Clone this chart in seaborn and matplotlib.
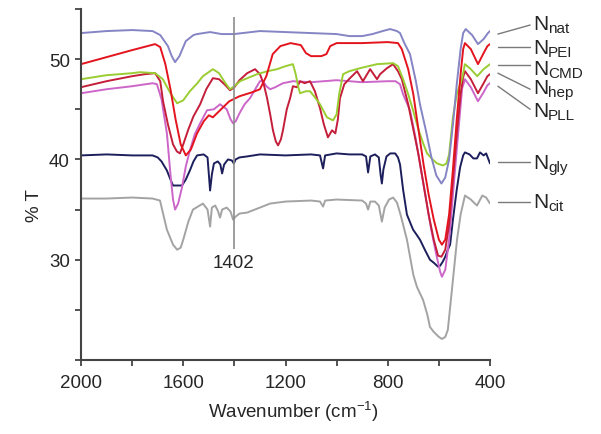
import numpy as np
import pandas as pd
import matplotlib
matplotlib.use("Agg")
import matplotlib.pyplot as plt
import seaborn as sns

# FTIR spectra, wavenumber (cm-1) vs %T
nat_wn = [2000, 1900, 1800, 1720, 1690, 1660, 1645, 1632, 1615, 1590, 1560, 1546, 1495, 1450, 1402, 1300, 1200, 1100, 1000, 950, 900, 860, 820, 791, 764, 752, 735, 713, 690, 674, 650, 630, 610, 590, 575, 560, 545, 530, 515, 505, 495, 470, 447, 425, 408, 400]
nat_t = [52.6, 52.8, 52.9, 52.8, 52.4, 51.3, 50.3, 49.7, 50.3, 51.8, 52.4, 52.5, 52.7, 52.5, 52.5, 52.8, 52.7, 52.6, 52.5, 52.3, 52.3, 52.5, 52.8, 53.0, 52.8, 52.6, 51.6, 50.5, 47.8, 45.5, 42.8, 40.3, 38.4, 37.6, 38.2, 40.0, 43.5, 47.5, 51.0, 52.6, 53.0, 52.4, 51.5, 52.0, 52.6, 52.8]

pei_wn = [2000, 1900, 1800, 1710, 1690, 1670, 1650, 1630, 1610, 1590, 1570, 1546, 1520, 1500, 1484, 1456, 1420, 1380, 1330, 1300, 1275, 1250, 1220, 1180, 1140, 1120, 1100, 1060, 1040, 1025, 1000, 900, 800, 760, 745, 720, 700, 680, 660, 640, 620, 600, 588, 575, 560, 545, 530, 515, 505, 498, 475, 447, 425, 410, 400]
pei_t = [49.5, 50.2, 50.9, 51.5, 51.2, 49.5, 47.0, 44.0, 41.5, 40.4, 41.0, 42.6, 43.8, 44.4, 44.2, 44.9, 45.8, 46.3, 46.7, 47.0, 48.3, 50.5, 51.3, 51.6, 51.4, 50.6, 50.3, 50.3, 50.5, 51.3, 51.6, 51.6, 51.7, 51.6, 51.0, 49.0, 46.5, 43.0, 39.5, 36.5, 34.0, 32.0, 31.5, 32.0, 34.5, 39.0, 44.0, 48.5, 51.0, 51.6, 51.0, 49.5, 50.6, 51.3, 51.5]

cmd_wn = [2000, 1900, 1800, 1769, 1710, 1680, 1650, 1624, 1600, 1574, 1545, 1523, 1484, 1460, 1435, 1417, 1400, 1378, 1340, 1311, 1270, 1233, 1200, 1171, 1160, 1150, 1143, 1120, 1104, 1085, 1065, 1038, 1014, 1000, 990, 975, 950, 908, 842, 779, 760, 740, 720, 701, 680, 660, 646, 625, 607, 584, 570, 560, 545, 530, 509, 498, 475, 450, 425, 400]
cmd_t = [48.0, 48.4, 48.6, 48.7, 48.6, 48.0, 46.6, 45.6, 45.9, 46.8, 47.6, 48.3, 49.0, 48.6, 47.6, 47.0, 47.3, 47.8, 48.2, 48.5, 48.8, 49.0, 49.3, 49.5, 48.5, 47.2, 46.6, 46.8, 46.8, 46.2, 45.5, 44.2, 43.9, 44.5, 46.5, 48.5, 48.8, 49.1, 49.5, 49.6, 49.3, 48.0, 46.5, 44.9, 43.0, 41.5, 40.6, 40.0, 39.6, 39.4, 39.6, 40.5, 44.2, 46.5, 48.1, 49.5, 49.0, 48.3, 49.0, 49.5]

hep_wn = [2000, 1900, 1800, 1750, 1710, 1690, 1679, 1660, 1640, 1625, 1613, 1600, 1580, 1560, 1534, 1510, 1484, 1460, 1435, 1417, 1400, 1380, 1350, 1319, 1300, 1285, 1272, 1260, 1249, 1238, 1229, 1218, 1210, 1195, 1182, 1171, 1155, 1143, 1125, 1104, 1085, 1065, 1050, 1034, 1025, 1018, 1005, 995, 987, 970, 948, 920, 897, 869, 842, 830, 803, 779, 760, 745, 720, 700, 680, 660, 640, 620, 603, 590, 575, 560, 545, 530, 515, 505, 498, 475, 447, 425, 410, 400]
hep_t = [47.2, 47.8, 48.3, 48.5, 48.6, 47.8, 45.8, 43.5, 41.5, 40.8, 40.6, 41.5, 43.0, 44.3, 45.5, 47.0, 48.1, 48.0, 47.4, 46.9, 47.2, 47.9, 48.6, 49.0, 48.5, 47.5, 46.1, 44.5, 42.9, 41.8, 41.4, 42.0, 42.9, 45.0, 46.1, 47.3, 47.2, 47.8, 47.6, 47.8, 46.8, 45.1, 43.5, 42.2, 42.6, 42.9, 42.6, 44.0, 46.1, 47.5, 48.1, 48.8, 47.8, 49.0, 48.0, 48.5, 49.1, 49.5, 48.8, 48.0, 45.5, 43.0, 40.5, 37.5, 34.5, 32.0, 30.4, 30.3, 31.0, 33.5, 38.0, 42.5, 46.5, 48.2, 48.8, 48.0, 46.6, 47.6, 48.3, 48.5]

pll_wn = [2000, 1900, 1800, 1720, 1703, 1685, 1664, 1650, 1640, 1632, 1620, 1605, 1590, 1574, 1555, 1534, 1507, 1480, 1456, 1430, 1415, 1405, 1395, 1380, 1360, 1339, 1300, 1288, 1275, 1260, 1240, 1210, 1171, 1100, 1000, 900, 800, 770, 752, 740, 713, 690, 670, 650, 630, 610, 595, 588, 575, 560, 545, 530, 518, 509, 498, 475, 447, 425, 410, 400]
pll_t = [46.6, 47.0, 47.3, 47.6, 47.5, 46.0, 42.6, 38.5, 36.0, 35.0, 35.6, 37.2, 39.3, 40.9, 42.5, 43.6, 44.9, 45.0, 45.5, 45.0, 44.0, 43.6, 43.8, 44.6, 45.5, 46.1, 47.8, 47.8, 47.3, 47.0, 47.2, 47.6, 47.8, 47.7, 47.9, 47.7, 47.8, 47.8, 47.5, 46.5, 44.9, 42.0, 39.0, 36.0, 33.0, 30.5, 28.8, 28.3, 29.0, 32.0, 36.5, 41.0, 44.5, 47.1, 48.0, 47.2, 45.8, 46.7, 47.4, 47.6]

gly_wn = [2000, 1900, 1800, 1720, 1700, 1685, 1664, 1650, 1640, 1620, 1605, 1590, 1574, 1560, 1546, 1520, 1505, 1495, 1488, 1480, 1465, 1455, 1448, 1440, 1425, 1410, 1402, 1395, 1380, 1350, 1300, 1200, 1100, 1065, 1053, 1045, 1000, 950, 900, 885, 877, 868, 850, 835, 828, 823, 817, 805, 790, 771, 760, 752, 740, 725, 701, 690, 674, 655, 635, 620, 603, 595, 585, 575, 565, 556, 545, 530, 517, 505, 498, 480, 465, 451, 439, 425, 415, 400]
gly_t = [40.4, 40.5, 40.4, 40.4, 40.2, 39.8, 38.9, 38.0, 37.4, 37.4, 37.4, 38.0, 38.9, 39.8, 40.4, 40.5, 40.2, 36.9, 38.5, 39.6, 39.8, 39.5, 38.6, 39.5, 40.0, 39.9, 39.6, 40.0, 40.2, 40.3, 40.5, 40.4, 40.5, 40.4, 39.1, 40.4, 40.6, 40.5, 40.5, 40.3, 38.7, 40.3, 40.5, 40.2, 38.5, 37.6, 39.0, 40.3, 40.6, 40.6, 40.2, 39.5, 37.0, 34.5, 33.0, 32.6, 32.0, 31.0, 30.0, 29.7, 29.3, 29.4, 29.8, 30.3, 31.0, 31.5, 34.0, 37.0, 39.2, 40.4, 40.7, 40.5, 40.1, 40.1, 40.7, 40.4, 40.6, 39.6]

cit_wn = [2000, 1900, 1800, 1720, 1691, 1664, 1640, 1624, 1610, 1600, 1580, 1562, 1523, 1505, 1495, 1488, 1475, 1465, 1456, 1448, 1430, 1415, 1405, 1395, 1380, 1350, 1300, 1260, 1200, 1100, 1065, 1053, 1045, 1000, 900, 885, 877, 868, 850, 835, 823, 812, 795, 779, 764, 750, 725, 700, 686, 662, 645, 635, 620, 600, 588, 575, 565, 545, 529, 515, 498, 475, 451, 430, 415, 400]
cit_t = [36.1, 36.1, 36.2, 36.1, 35.9, 33.0, 31.5, 31.0, 31.2, 32.0, 33.8, 35.0, 35.6, 35.0, 33.3, 35.2, 35.4, 34.9, 34.2, 35.0, 35.2, 34.8, 34.0, 34.3, 34.6, 34.7, 35.2, 35.6, 35.8, 35.9, 35.8, 35.3, 35.9, 36.0, 35.9, 35.6, 35.0, 35.8, 35.8, 35.4, 33.8, 35.2, 36.0, 36.2, 35.7, 34.5, 32.0, 28.5, 27.3, 26.0, 24.5, 23.3, 22.8, 22.3, 22.1, 22.3, 23.0, 28.0, 32.0, 34.5, 36.4, 36.0, 35.4, 36.4, 36.2, 35.6]

samples = ["cit", "gly", "PLL", "hep", "CMD", "PEI", "nat"]
colors = {"nat": "#8584c4", "PEI": "#e3141e", "CMD": "#9acd32", "hep": "#c41e3a",
          "PLL": "#cc66c8", "gly": "#1c1f5c", "cit": "#a3a3a3"}

series = {"nat": (nat_wn, nat_t), "PEI": (pei_wn, pei_t), "CMD": (cmd_wn, cmd_t),
          "hep": (hep_wn, hep_t), "PLL": (pll_wn, pll_t), "gly": (gly_wn, gly_t),
          "cit": (cit_wn, cit_t)}

frames = []
for s in samples:
    wn, t = series[s]
    frames.append(pd.DataFrame({"wn": wn, "T": t, "sample": s}))
df = pd.concat(frames, ignore_index=True)

sns.set_style("ticks")
plt.rcParams["font.family"] = ["Liberation Sans", "DejaVu Sans"]
plt.rcParams["mathtext.fontset"] = "custom"
plt.rcParams["mathtext.rm"] = "Liberation Sans"
plt.rcParams["mathtext.it"] = "Liberation Sans:italic"
plt.rcParams["mathtext.bf"] = "Liberation Sans:bold"

fig = plt.figure(figsize=(6.01, 4.35), dpi=100)
ax = fig.add_axes([81 / 601, 1 - 361 / 435, 409 / 601, 351 / 435])

sns.lineplot(data=df, x="wn", y="T", hue="sample", palette=colors, hue_order=samples,
             estimator=None, sort=False, lw=1.4, legend=False, ax=ax)

ax.set_xlim(2000, 400)
ax.set_ylim(20, 55)
ax.set_xticks([2000, 1600, 1200, 800, 400])
ax.set_xticks([1800, 1400, 1000, 600], minor=True)
ax.set_yticks([30, 40, 50])
ax.set_yticks([20, 25, 35, 45, 55], minor=True)
sns.despine(ax=ax)
for sp in ["left", "bottom"]:
    ax.spines[sp].set_color("#444444")
    ax.spines[sp].set_linewidth(1.5)
ax.tick_params(which="both", direction="out", length=4, width=1.3, color="#444444")
ax.tick_params(which="major", labelsize=13.5, pad=4)
ax.tick_params(axis="x", which="major", pad=6)

ax.set_xlabel("Wavenumber (cm$^{-1}$)", fontsize=13.5)
ax.set_ylabel("% T", fontsize=13.5)
ax.xaxis.set_label_coords((293 - 81) / 409, -0.112)
ax.yaxis.set_label_coords(-0.093, 0.444)

# marker line at 1402 cm-1
ax.vlines(1402, 31.1, 54.2, color="#8c8c8c", lw=1.2)
ax.text(1402, 29.7, "1402", ha="center", va="center", fontsize=13.5)

# labels on the right with leader lines: (name, line start, line end, text baseline)
labels = [("nat", 52.5, 53.4, 52.97), ("PEI", 51.2, 51.2, 50.6), ("CMD", 49.4, 49.4, 48.5),
          ("hep", 48.6, 47.0, 46.6), ("PLL", 47.3, 45.0, 44.35), ("gly", 39.7, 39.7, 39.1),
          ("cit", 35.8, 35.8, 35.25)]
for name, y0, y1, yt in labels:
    ax.plot([369, 243], [y0, y1], color="#7a7a7a", lw=1.0, clip_on=False)
    ax.text(232, yt, "N", fontsize=15, va="baseline", ha="left")
    ax.annotate(name, xy=(232, yt), xycoords="data", xytext=(10.9, -2.0),
                textcoords="offset points", fontsize=11, va="baseline", ha="left",
                annotation_clip=False)

fig.savefig("out.png", dpi=100)
